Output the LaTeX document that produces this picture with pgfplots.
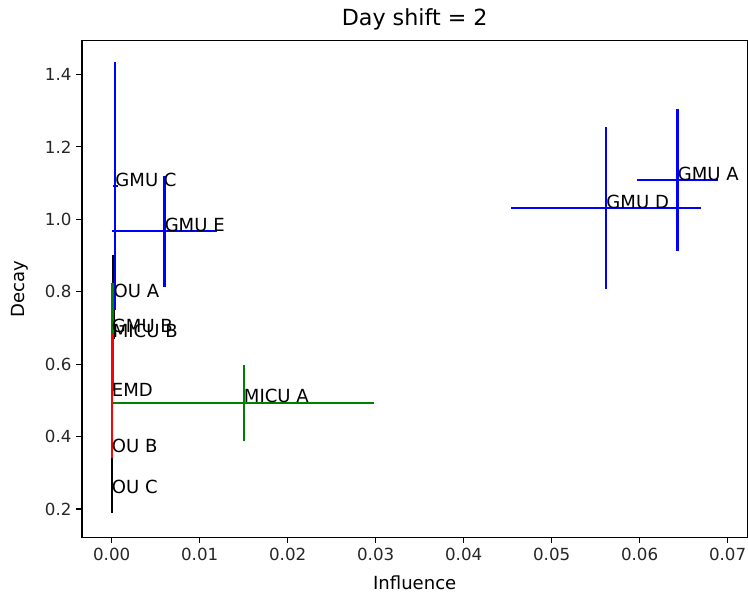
\documentclass[border=0pt]{standalone}
\usepackage{fontspec}
\setmainfont{DejaVu Sans}
\usepackage{pgfplots}
\pgfplotsset{compat=1.18}
\definecolor{mplgreen}{RGB}{0,128,0}
\begin{document}
\begin{tikzpicture}[x=1pt,y=1pt]
\begin{axis}[
  at={(0,0)}, anchor=south west,
  scale only axis,
  width=479.2pt, height=357.6pt,
  xmin=-0.00338, xmax=0.07225,
  ymin=0.1218, ymax=1.4932,
  xtick={0,0.01,0.02,0.03,0.04,0.05,0.06,0.07},
  ytick={0.2,0.4,0.6,0.8,1.0,1.2,1.4},
  xticklabel style={/pgf/number format/fixed, /pgf/number format/fixed zerofill, /pgf/number format/precision=2},
  yticklabel style={/pgf/number format/fixed, /pgf/number format/fixed zerofill, /pgf/number format/precision=1},
  scaled x ticks=false,
  /pgf/number format/assume math mode=true,
  tick label style={font=\fontsize{12}{14}\selectfont, color=black!85},
  tick align=outside, tick pos=left,
  major tick length=4pt,
  xlabel={Influence}, ylabel={Decay},
  label style={font=\fontsize{13}{15}\selectfont},
  xlabel style={yshift=-4pt},
  ylabel style={yshift=5pt},
  title={Day shift = 2},
  title style={font=\fontsize{16}{18}\selectfont, yshift=-2pt},
  axis line style={line width=0.9pt},
  every tick/.style={black, line width=0.9pt},
  clip=false,
  error bars/error mark=none,
]
% OU (black)
\addplot[draw=none, mark=none, error bars/.cd, x dir=both, x explicit, y dir=both, y explicit,
  error bar style={line width=1.6pt, draw=black}]
  coordinates {(0.0002,0.785) +- (0.0001,0.116) (0.0000,0.355) +- (0.0000,0.10) (0.0000,0.244) +- (0.0000,0.055)};
% GMU (blue)
\addplot[draw=none, mark=none, error bars/.cd, x dir=both, x explicit, y dir=both, y explicit,
  error bar style={line width=1.6pt, draw=blue}]
  coordinates {(0.0643,1.108) +- (0.0046,0.196) (0.0562,1.031) +- (0.0108,0.223) (0.0004,1.091) +- (0.0003,0.342) (0.0060,0.967) +- (0.0060,0.153) (0.0000,0.688) +- (0.0001,0.135)};
% MICU (green)
\addplot[draw=none, mark=none, error bars/.cd, x dir=both, x explicit, y dir=both, y explicit,
  error bar style={line width=1.6pt, draw=mplgreen}]
  coordinates {(0.0150,0.493) +- (0.0148,0.106) (0.0001,0.674) +- (0.0001,0.149)};
% EMD (red)
\addplot[draw=none, mark=none, error bars/.cd, x dir=both, x explicit, y dir=both, y explicit,
  error bar style={line width=1.6pt, draw=red}]
  coordinates {(0.0000,0.512) +- (0.0000,0.171)};
\begin{scope}[every node/.style={anchor=base west, inner sep=0pt, font=\fontsize{13}{15}\selectfont}]
\node at (axis cs:0.0643,1.108) {GMU A};
\node at (axis cs:0.0562,1.031) {GMU D};
\node at (axis cs:0.0004,1.091) {GMU C};
\node at (axis cs:0.0060,0.967) {GMU E};
\node at (axis cs:0.0000,0.688) {GMU B};
\node at (axis cs:0.0150,0.493) {MICU A};
\node at (axis cs:0.0001,0.674) {MICU B};
\node at (axis cs:0.0000,0.512) {EMD};
\node at (axis cs:0.0002,0.785) {OU A};
\node at (axis cs:0.0000,0.355) {OU B};
\node at (axis cs:0.0000,0.244) {OU C};
\end{scope}
\end{axis}
\pgfresetboundingbox
\path (-59.0pt,-43.0pt) rectangle (479.6pt,386.9pt);
\end{tikzpicture}
\end{document}
